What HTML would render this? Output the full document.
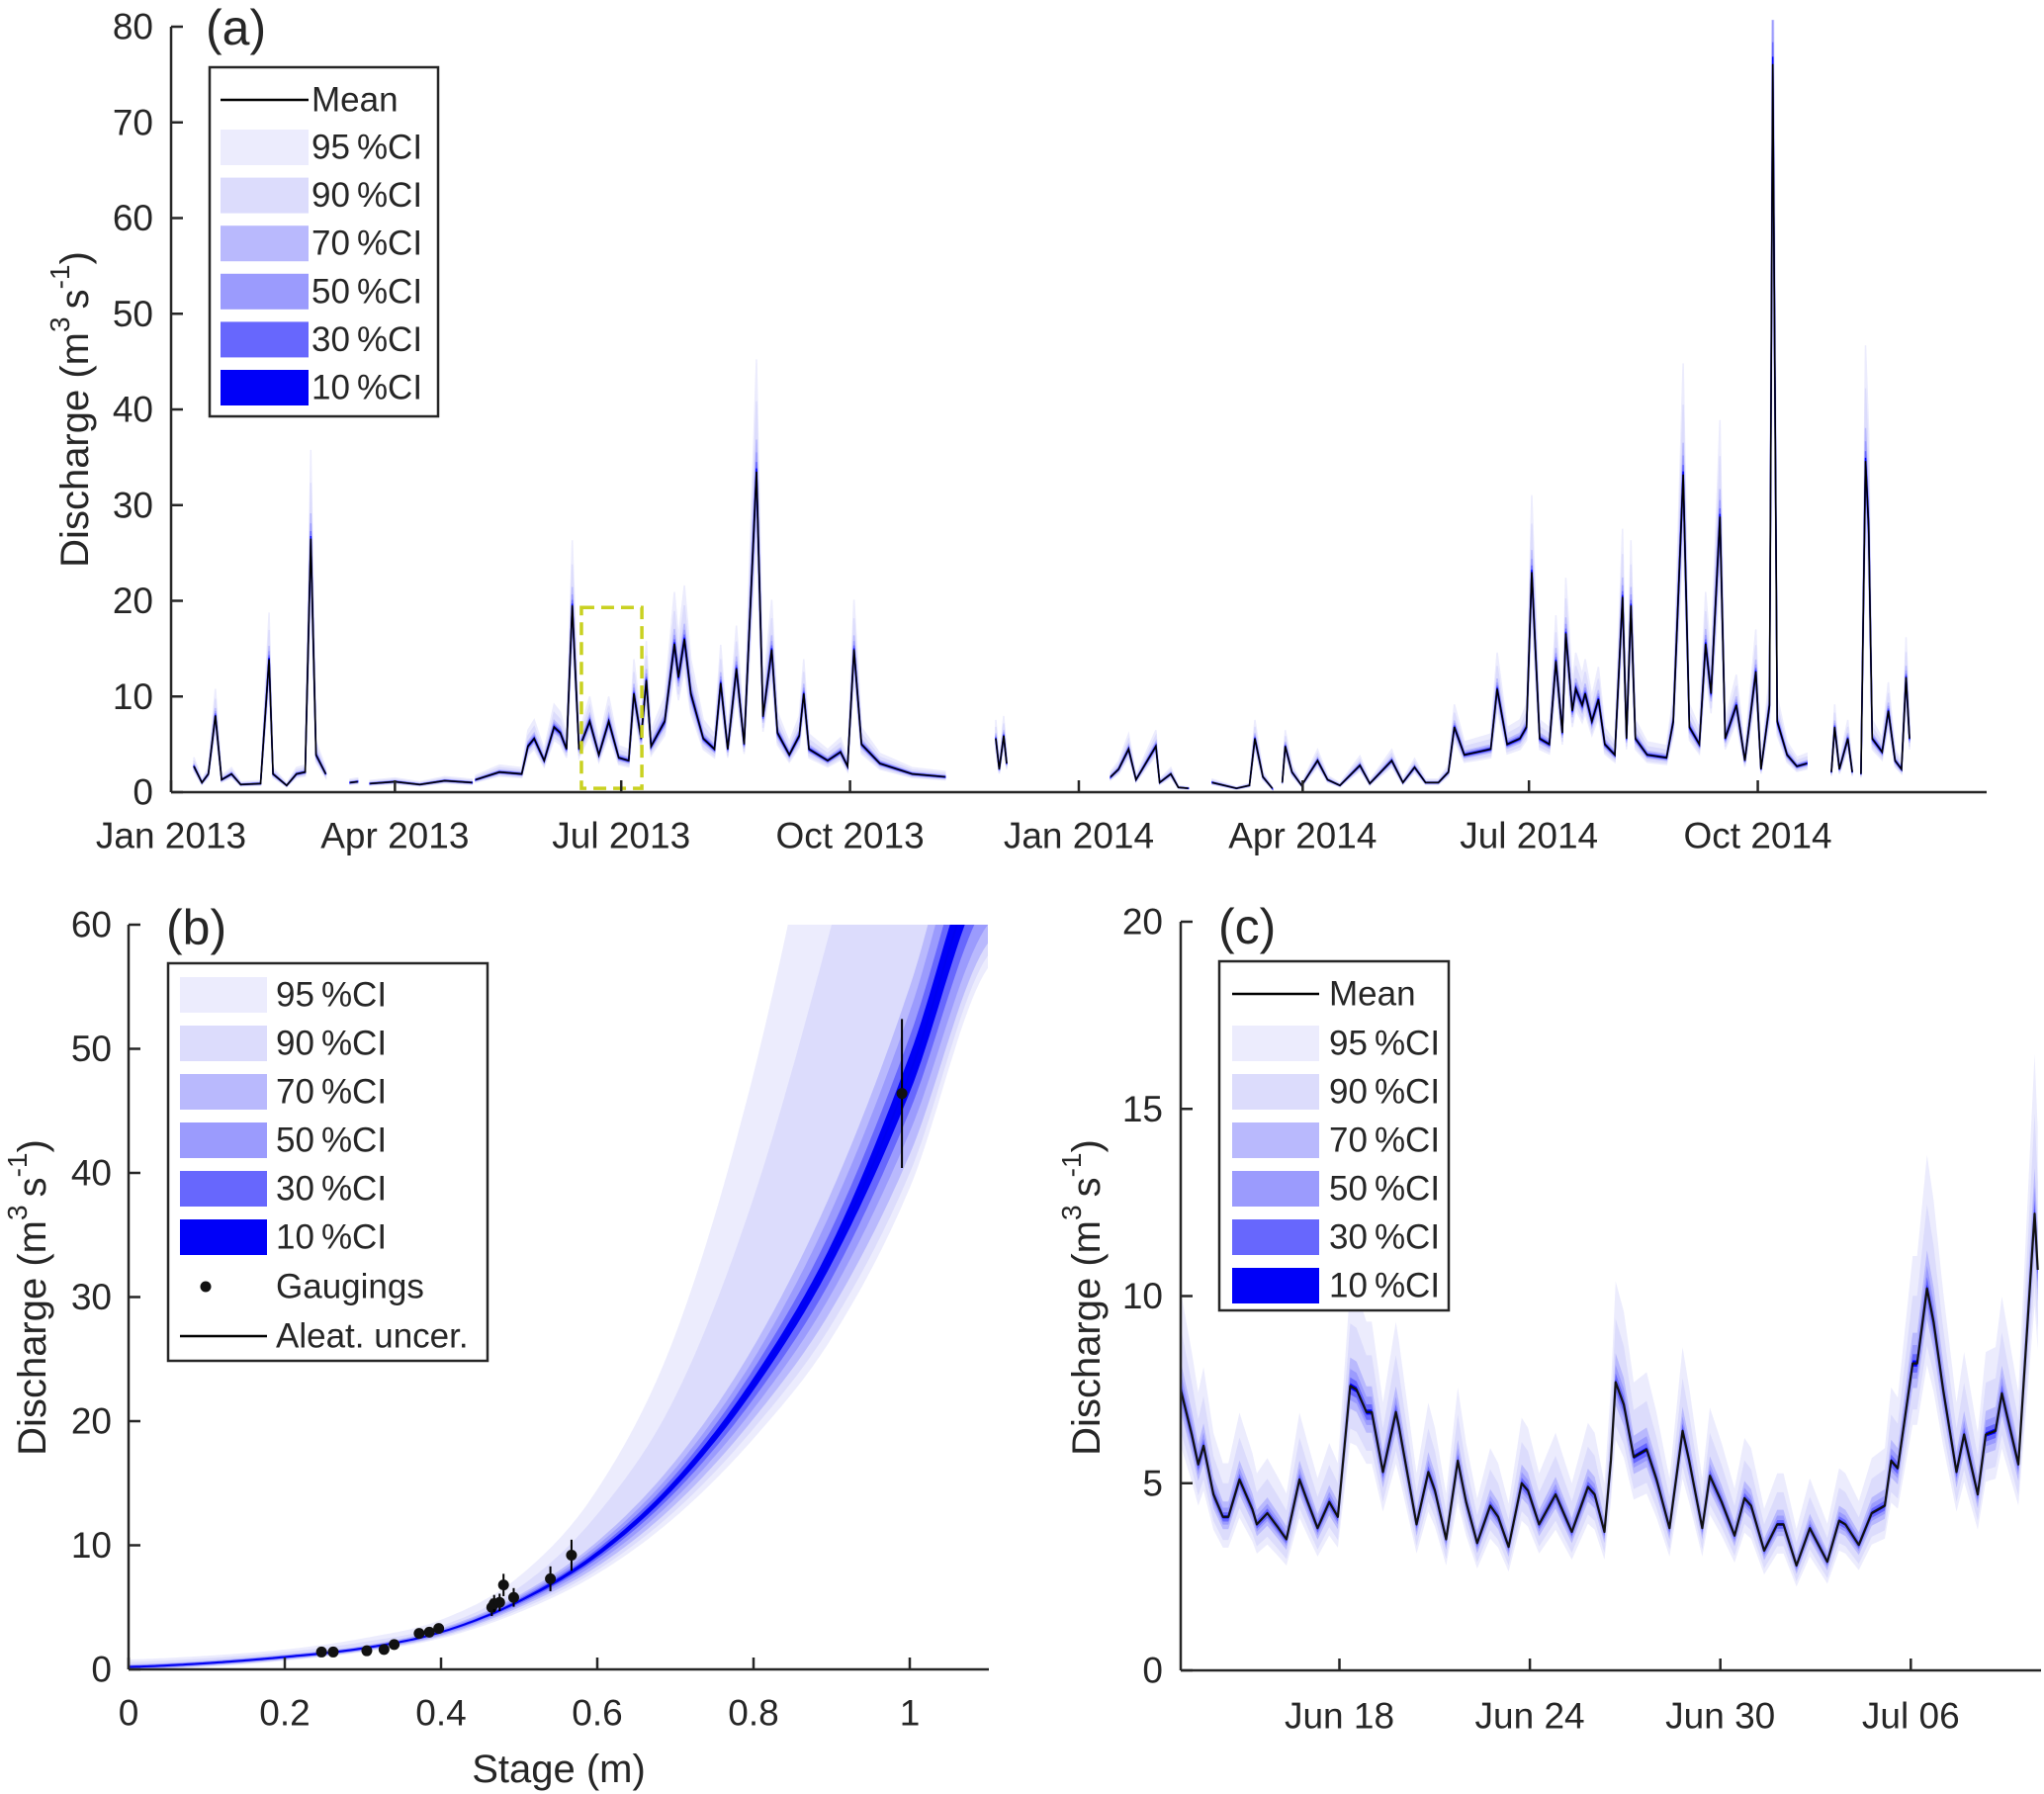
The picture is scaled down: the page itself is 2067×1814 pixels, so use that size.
<!DOCTYPE html>
<html><head><meta charset="utf-8"><style>
html,body{margin:0;padding:0;background:#fff;}
svg{display:block;}
text{font-family:"Liberation Sans",Arial,sans-serif;fill:#262626;}
</style></head>
<body>
<svg id="fig" width="2067" height="1814" viewBox="0 0 2067 1814" xmlns="http://www.w3.org/2000/svg">
<defs>
<clipPath id="clipA"><rect x="173" y="20" width="1836" height="781"/></clipPath>
<clipPath id="clipB"><rect x="130" y="935" width="870" height="753"/></clipPath>
<clipPath id="clipC"><rect x="1194" y="932" width="870" height="757"/></clipPath>
</defs>
<g id="panelA"></g>
<g id="panelB"></g>
<g id="panelC"></g>
</svg>
<script>
// ---------- DATA ----------
const aDays = [9.2,12.4,15,17.8,20.3,24.3,28,36,39.4,41,46.5,50.4,53.9,56.2,58.3,62.2,null,
72,75,null,
80,90,100,110,121,null,
122.5,132,141,143.5,146,150,154,156.5,159,161.3,164,168.3,172,176,180,184,186.1,189,191.1,193,198.5,202.4,204,206.4,209,214,218.5,221,223.8,227.3,230.4,235.4,238,241.5,243.8,248.6,252.6,254.4,256.5,264,269.2,272,274.6,277.6,285,298,311.2,null,
331.6,333,334.8,336,null,
377.8,381,385,388,396,397.5,402,405,409,null,
418.7,428.4,433.6,435.8,439,442.8,null,
446.8,448,450.7,454.6,461,465,470,478,482,490.8,495.3,500,504.4,509.6,513.6,516,520,525.4,530.6,533.2,537.2,542.4,545,547.1,550.3,554.2,556.8,559.4,560.8,563.4,564.8,567.4,568.6,571.3,573.9,576.5,580.5,583.6,585.2,587,588.8,593.5,601.3,604,608,610.5,614.5,617,619.2,622.8,624.9,629.4,632.8,637.2,639.3,642.7,644,645.8,649.8,653.7,657.7,null,
667.6,668.9,670.8,674.2,676,null,
679.5,681.3,682.6,684,688,690.5,693.2,695.8,697.6,699];
const aMean = [2.7,1.0,1.9,8,1.3,1.9,0.8,0.9,13.9,1.9,0.7,1.9,2.1,26.5,3.9,1.9,null,
1.0,1.1,null,
0.9,1.1,0.8,1.2,1.0,null,
1.3,2.1,1.9,4.8,5.6,3.3,6.8,6.2,4.5,19.5,4.5,7.4,3.9,7.4,3.6,3.3,10.3,5.6,11.7,4.8,7.4,15.5,12,16,10.3,5.6,4.5,11.4,4.5,12.9,5,33.5,7.9,14.9,6.2,3.9,5.9,10.3,4.5,3.3,4.2,2.7,14.9,5,3,1.9,1.6,null,
5.6,2.4,5.9,3,null,
1.6,2.4,4.5,1.3,4.8,1.0,1.9,0.5,0.4,null,
1.0,0.4,0.7,5.6,1.6,0.4,null,
1.0,4.8,2.1,0.7,3.3,1.3,0.7,2.8,0.9,3.3,1.0,2.6,1.0,1.0,2.1,6.8,3.9,4.2,4.5,10.8,5,5.6,6.8,23,5.6,5,13.7,6.2,16.6,8.5,10.8,9.1,10.3,7.4,9.7,5,3.9,20.4,5.6,19.5,5.6,3.9,3.6,7.4,33.2,6.8,5,15.5,10.3,28.8,5.6,9.1,3.3,12.6,2.4,9.1,76.1,7.4,3.9,2.7,3,null,
2.1,6.8,2.4,5.6,2.1,null,
1.9,34.6,27.7,5.6,4.2,8.5,3.3,2.4,12,5.6];
const aYTicks = [0,10,20,30,40,50,60,70,80];
const aXTickDays = [0,90,181,273,365,455,546,638];
const aXTickLabels = ["Jan 2013","Apr 2013","Jul 2013","Oct 2013","Jan 2014","Apr 2014","Jul 2014","Oct 2014"];
const ciLabels = ["95\u2009%CI","90\u2009%CI","70\u2009%CI","50\u2009%CI","30\u2009%CI","10\u2009%CI"];
const ciUpper = [1.35,1.22,1.10,1.06,1.03,1.01];
const ciLower = [0.80,0.85,0.92,0.95,0.97,0.99];
const ciColors = ["#ececfd","#dcdcfc","#b9b9fd","#9b9bfd","#6767fd","#0000f8"];

const bStage = [0,0.1,0.2,0.3,0.4,0.5,0.6,0.7,0.8,0.9,1.0,1.1];
const bMean  = [0.2,0.5,1.0,1.7,3.0,5.5,9.3,15,23,33.5,48,66];
const bU95 = [0.8,1.1,1.6,2.5,4.0,7.5,14.5,27,48,77,110,150];
const bU90 = [0.6,0.9,1.4,2.2,3.5,6.6,12.5,22,38,60,85,115];
const bU70 = [0.4,0.7,1.2,1.9,3.3,6.0,10.3,16.8,26,38.5,55,76];
const bU50 = [0.35,0.65,1.15,1.85,3.2,5.85,10.0,16.2,25,37,53,73];
const bU30 = [0.3,0.6,1.1,1.8,3.1,5.7,9.7,15.7,24.2,35.5,51,70];
const bU10 = [0.25,0.55,1.05,1.75,3.05,5.6,9.5,15.3,23.5,34.3,49.5,68];
const bL10 = [0.15,0.45,0.95,1.65,2.95,5.4,9.1,14.7,22.5,32.7,46.5,64];
const bL30 = [0.1,0.4,0.9,1.6,2.9,5.3,8.9,14.3,21.8,31.5,45,62];
const bL50 = [0.05,0.35,0.85,1.55,2.8,5.15,8.6,13.8,21,30.3,43.3,60];
const bL70 = [0,0.3,0.8,1.5,2.7,5.0,8.3,13.3,20.2,29,41.5,58.5];
const bL90 = [0,0.25,0.75,1.45,2.6,4.8,8.0,12.8,19.4,27.8,40,57.5];
const bL95 = [0,0.2,0.7,1.4,2.5,4.6,7.7,12.3,18.6,26.7,38.8,56.5];
const gStage = [0.247,0.262,0.305,0.327,0.34,0.372,0.385,0.397,0.465,0.468,0.475,0.48,0.493,0.54,0.567,0.99];
const gQ     = [1.4,1.4,1.5,1.6,2.0,2.9,3.0,3.3,5.0,5.3,5.4,6.8,5.8,7.3,9.2,46.4];
const gErr   = [0.15,0.15,0.2,0.2,0.25,0.35,0.35,0.4,0.7,0.7,0.7,0.9,0.75,1.0,1.25,6.0];
const bYTicks = [0,10,20,30,40,50,60];
const bXTicks = [0,0.2,0.4,0.6,0.8,1];
const bXTickLabels = ["0","0.2","0.4","0.6","0.8","1"];

const cDays = [0,0.35,0.55,0.72,1.03,1.33,1.5,1.85,2.26,2.4,2.73,3.08,3.33,3.74,4.0,4.31,4.68,4.95,5.34,5.54,5.85,6.02,6.37,6.78,6.88,7.43,7.8,8.01,8.36,8.73,8.99,9.34,9.75,10.0,10.33,10.74,10.94,11.29,11.81,12.32,12.83,13.04,13.35,13.55,13.7,13.96,14.27,14.68,14.99,15.4,15.81,16.02,16.43,16.67,17.04,17.45,17.76,17.97,18.38,18.79,18.99,19.4,19.82,20.37,20.74,20.94,21.36,21.77,22.18,22.38,22.59,23.06,23.2,23.51,23.72,24.02,24.44,24.68,25.11,25.36,25.67,25.87,26.39,26.9,27.0];
const cMean = [7.5,6.3,5.5,6.0,4.7,4.1,4.1,5.1,4.3,3.9,4.2,3.8,3.5,5.1,4.5,3.8,4.5,4.1,7.6,7.5,6.9,6.9,5.3,6.9,6.5,3.9,5.3,4.8,3.5,5.6,4.5,3.4,4.4,4.1,3.3,5.0,4.8,3.9,4.7,3.7,4.9,4.7,3.7,5.6,7.7,7.1,5.7,5.9,5.1,3.8,6.4,5.6,3.8,5.2,4.5,3.6,4.6,4.4,3.2,3.9,3.9,2.8,3.8,2.9,4.0,3.9,3.35,4.2,4.4,5.6,5.4,8.2,8.2,10.2,9.3,7.5,5.3,6.3,4.7,6.3,6.4,7.4,5.5,12.2,10.7];
const cYTicks = [0,5,10,15,20];
const cXTickDays = [5,11,17,23];
const cXTickLabels = ["Jun 18","Jun 24","Jun 30","Jul 06"];

// ---------- HELPERS ----------
const NS = "http://www.w3.org/2000/svg";
function mk(parent, tag, attrs, txt){
  const e = document.createElementNS(NS, tag);
  for (const k in attrs) e.setAttribute(k, attrs[k]);
  if (txt !== undefined) e.textContent = txt;
  parent.appendChild(e);
  return e;
}
const AX = "#262626";
function segments(xs, ys){
  const segs=[]; let cur=[];
  for(let i=0;i<xs.length;i++){
    if(xs[i]===null||ys[i]===null){ if(cur.length) segs.push(cur); cur=[]; }
    else cur.push(i);
  }
  if(cur.length) segs.push(cur);
  return segs;
}
function cr(xs, ys, x){
  let i=0; while(i<xs.length-2 && x>xs[i+1]) i++;
  const t=(x-xs[i])/(xs[i+1]-xs[i]);
  const p0=ys[Math.max(i-1,0)],p1=ys[i],p2=ys[i+1],p3=ys[Math.min(i+2,ys.length-1)];
  return 0.5*((2*p1)+(-p0+p2)*t+(2*p0-5*p1+4*p2-p3)*t*t+(-p0+3*p1-3*p2+p3)*t*t*t);
}
function ylabel(g, cx, cy, name){
  const t = mk(g,"text",{transform:`translate(${cx},${cy}) rotate(-90)`,"text-anchor":"middle","font-size":"40","dominant-baseline":"central"});
  
  
  t.appendChild(document.createTextNode("Discharge (m"));
  mk(t,"tspan",{"baseline-shift":"super","font-size":"28"},"3");
  mk(t,"tspan",{},"\u2009s");
  mk(t,"tspan",{"baseline-shift":"super","font-size":"28"},"-1");
  mk(t,"tspan",{},")");
}
function legend(g, x0, y0, w, h, rows, name){
  const lg = mk(g,"g",{});
  
  
  mk(lg,"rect",{x:x0,y:y0,width:w,height:h,fill:"#fff",stroke:AX,"stroke-width":2.5});
  rows.forEach(r=>{
    const it = mk(lg,"g",{});
    
    
    if(r.type==="line") mk(it,"line",{x1:r.sx1,x2:r.sx2,y1:r.y,y2:r.y,stroke:"#000","stroke-width":2.5});
    else if(r.type==="dot") mk(it,"circle",{cx:(r.sx1+r.sx2)/2-18,cy:r.y,r:5.5,fill:"#111"});
    else mk(it,"rect",{x:r.sx1,y:r.y-18,width:r.sx2-r.sx1,height:36,fill:r.color});
    mk(it,"text",{x:r.tx,y:r.y,"font-size":"35","dominant-baseline":"central"},r.label);
  });
}

// ---------- PANEL A ----------
(function(){
  const g = document.getElementById("panelA");
  const x = d => 173 + d*2.515;
  const y = v => 801 - v*9.675;
  const plot = mk(g,"g",{"clip-path":"url(#clipA)"});
  const segs = segments(aDays, aMean);
  ciLabels.forEach((lab,k)=>{
    segs.forEach(s=>{
      let d="";
      s.forEach((i,j)=>{ d += (j?"L":"M")+x(aDays[i]).toFixed(1)+","+y(aMean[i]*ciUpper[k]).toFixed(1); });
      for(let j=s.length-1;j>=0;j--){ const i=s[j]; d += "L"+x(aDays[i]).toFixed(1)+","+y(aMean[i]*ciLower[k]).toFixed(1); }
      const p = mk(plot,"path",{d:d+"Z",fill:ciColors[k],stroke:ciColors[k],"stroke-width":1.5});
      
      
    });
  });
  segs.forEach(s=>{
    const pts = s.map(i=>x(aDays[i]).toFixed(1)+","+y(aMean[i]).toFixed(1)).join(" ");
    const l = mk(plot,"polyline",{points:pts,fill:"none",stroke:"#000","stroke-width":1.6});
    
    
  });
  const box = mk(g,"rect",{x:x(165),y:y(19.3),width:x(189.3)-x(165),height:y(0.4)-y(19.3),fill:"none",stroke:"#c9d121","stroke-width":3.5,"stroke-dasharray":"13,7"});
  
  
  mk(g,"line",{x1:173,y1:y(80),x2:173,y2:801,stroke:AX,"stroke-width":2.5});
  mk(g,"line",{x1:173,y1:801,x2:2009,y2:801,stroke:AX,"stroke-width":2.5});
  aYTicks.forEach(v=>{
    mk(g,"line",{x1:173,x2:185,y1:y(v),y2:y(v),stroke:AX,"stroke-width":2.5});
    const t=mk(g,"text",{x:155,y:y(v),"text-anchor":"end","dominant-baseline":"central","font-size":"37"},String(v));
    
    
  });
  aXTickDays.forEach((dd,i)=>{
    mk(g,"line",{x1:x(dd),x2:x(dd),y1:801,y2:789,stroke:AX,"stroke-width":2.5});
    const t=mk(g,"text",{x:x(dd),y:845,"text-anchor":"middle","dominant-baseline":"central","font-size":"37"},aXTickLabels[i]);
    
    
  });
  ylabel(g,76,414,"y-axis-title-a");
  const pl = mk(g,"text",{x:208,y:28,"dominant-baseline":"central","font-size":"50"},"(a)");
  
  
  const rows=[{type:"line",sx1:223,sx2:312,y:101,tx:315,label:"Mean"}];
  ciLabels.forEach((l,k)=>rows.push({type:"rect",sx1:223,sx2:312,y:149+k*48.6,tx:315,label:l,color:ciColors[k]}));
  legend(g,212,68,231,353,rows,"legend-a");
})();

// ---------- PANEL B ----------
(function(){
  const g = document.getElementById("panelB");
  const x = s => 130 + s*790;
  const y = q => 1688 - q*12.55;
  const plot = mk(g,"g",{"clip-path":"url(#clipB)"});
  const uppers=[bU95,bU90,bU70,bU50,bU30,bU10], lowers=[bL95,bL90,bL70,bL50,bL30,bL10];
  const N=220, smax=bStage[bStage.length-1];
  ciLabels.forEach((lab,k)=>{
    let d="";
    for(let i=0;i<=N;i++){ const s=smax*i/N; d+=(i?"L":"M")+x(s).toFixed(1)+","+y(cr(bStage,uppers[k],s)).toFixed(1); }
    for(let i=N;i>=0;i--){ const s=smax*i/N; d+="L"+x(s).toFixed(1)+","+y(cr(bStage,lowers[k],s)).toFixed(1); }
    const p=mk(plot,"path",{d:d+"Z",fill:ciColors[k]});
    
    
  });
  let d="";
  for(let i=0;i<=N;i++){ const s=smax*i/N; d+=(i?"L":"M")+x(s).toFixed(1)+","+y(cr(bStage,bMean,s)).toFixed(1); }
  const ml=mk(plot,"path",{d:d,fill:"none",stroke:"#0000f0","stroke-width":2});
  
  
  gStage.forEach((s,i)=>{
    const gg=mk(plot,"g",{});
    
    
    mk(gg,"line",{x1:x(s),x2:x(s),y1:y(gQ[i]-gErr[i]),y2:y(gQ[i]+gErr[i]),stroke:"#000","stroke-width":2});
    mk(gg,"circle",{cx:x(s),cy:y(gQ[i]),r:5.5,fill:"#111"});
  });
  mk(g,"line",{x1:130,y1:935,x2:130,y2:1688,stroke:AX,"stroke-width":2.5});
  mk(g,"line",{x1:130,y1:1688,x2:1000,y2:1688,stroke:AX,"stroke-width":2.5});
  bYTicks.forEach(v=>{
    mk(g,"line",{x1:130,x2:142,y1:y(v),y2:y(v),stroke:AX,"stroke-width":2.5});
    const t=mk(g,"text",{x:113,y:y(v),"text-anchor":"end","dominant-baseline":"central","font-size":"37"},String(v));
    
    
  });
  bXTicks.forEach((s,i)=>{
    mk(g,"line",{x1:x(s),x2:x(s),y1:1688,y2:1676,stroke:AX,"stroke-width":2.5});
    const t=mk(g,"text",{x:x(s),y:1732,"text-anchor":"middle","dominant-baseline":"central","font-size":"37"},bXTickLabels[i]);
    
    
  });
  const xl=mk(g,"text",{x:565,y:1789,"text-anchor":"middle","dominant-baseline":"central","font-size":"40"},"Stage (m)");
  
  
  ylabel(g,33,1312,"y-axis-title-b");
  const pl=mk(g,"text",{x:168,y:938,"dominant-baseline":"central","font-size":"50"},"(b)");
  
  
  const rows=[];
  ciLabels.forEach((l,k)=>rows.push({type:"rect",sx1:182,sx2:270,y:1006+k*49,tx:279,label:l,color:ciColors[k]}));
  rows.push({type:"dot",sx1:182,sx2:270,y:1301,tx:279,label:"Gaugings"});
  rows.push({type:"line",sx1:182,sx2:270,y:1351,tx:279,label:"Aleat. uncer."});
  legend(g,170,974,323,402,rows,"legend-b");
})();

// ---------- PANEL C ----------
(function(){
  const g = document.getElementById("panelC");
  const x = d => 1194 + d*32.1;
  const y = v => 1689 - v*37.85;
  const plot = mk(g,"g",{"clip-path":"url(#clipC)"});
  ciLabels.forEach((lab,k)=>{
    let d="";
    cDays.forEach((dd,i)=>{ d+=(i?"L":"M")+x(dd).toFixed(1)+","+y(cMean[i]*ciUpper[k]).toFixed(1); });
    for(let i=cDays.length-1;i>=0;i--) d+="L"+x(cDays[i]).toFixed(1)+","+y(cMean[i]*ciLower[k]).toFixed(1);
    const p=mk(plot,"path",{d:d+"Z",fill:ciColors[k],"stroke-linejoin":"round"});
    
    
  });
  const pts=cDays.map((dd,i)=>x(dd).toFixed(1)+","+y(cMean[i]).toFixed(1)).join(" ");
  const ml=mk(plot,"polyline",{points:pts,fill:"none",stroke:"#111","stroke-width":2.2,"stroke-linejoin":"round"});
  
  
  mk(g,"line",{x1:1194,y1:932,x2:1194,y2:1689,stroke:AX,"stroke-width":2.5});
  mk(g,"line",{x1:1194,y1:1689,x2:2064,y2:1689,stroke:AX,"stroke-width":2.5});
  cYTicks.forEach(v=>{
    mk(g,"line",{x1:1194,x2:1206,y1:y(v),y2:y(v),stroke:AX,"stroke-width":2.5});
    const t=mk(g,"text",{x:1176,y:y(v),"text-anchor":"end","dominant-baseline":"central","font-size":"37"},String(v));
    
    
  });
  cXTickDays.forEach((dd,i)=>{
    mk(g,"line",{x1:x(dd),x2:x(dd),y1:1689,y2:1677,stroke:AX,"stroke-width":2.5});
    const t=mk(g,"text",{x:x(dd),y:1735,"text-anchor":"middle","dominant-baseline":"central","font-size":"37"},cXTickLabels[i]);
    
    
  });
  ylabel(g,1099,1312,"y-axis-title-c");
  const pl=mk(g,"text",{x:1232,y:937,"dominant-baseline":"central","font-size":"50"},"(c)");
  
  
  const rows=[{type:"line",sx1:1246,sx2:1334,y:1005,tx:1344,label:"Mean"}];
  ciLabels.forEach((l,k)=>rows.push({type:"rect",sx1:1246,sx2:1334,y:1055+k*49,tx:1344,label:l,color:ciColors[k]}));
  legend(g,1233,972,232,353,rows,"legend-c");
})();
</script>
</body></html>
